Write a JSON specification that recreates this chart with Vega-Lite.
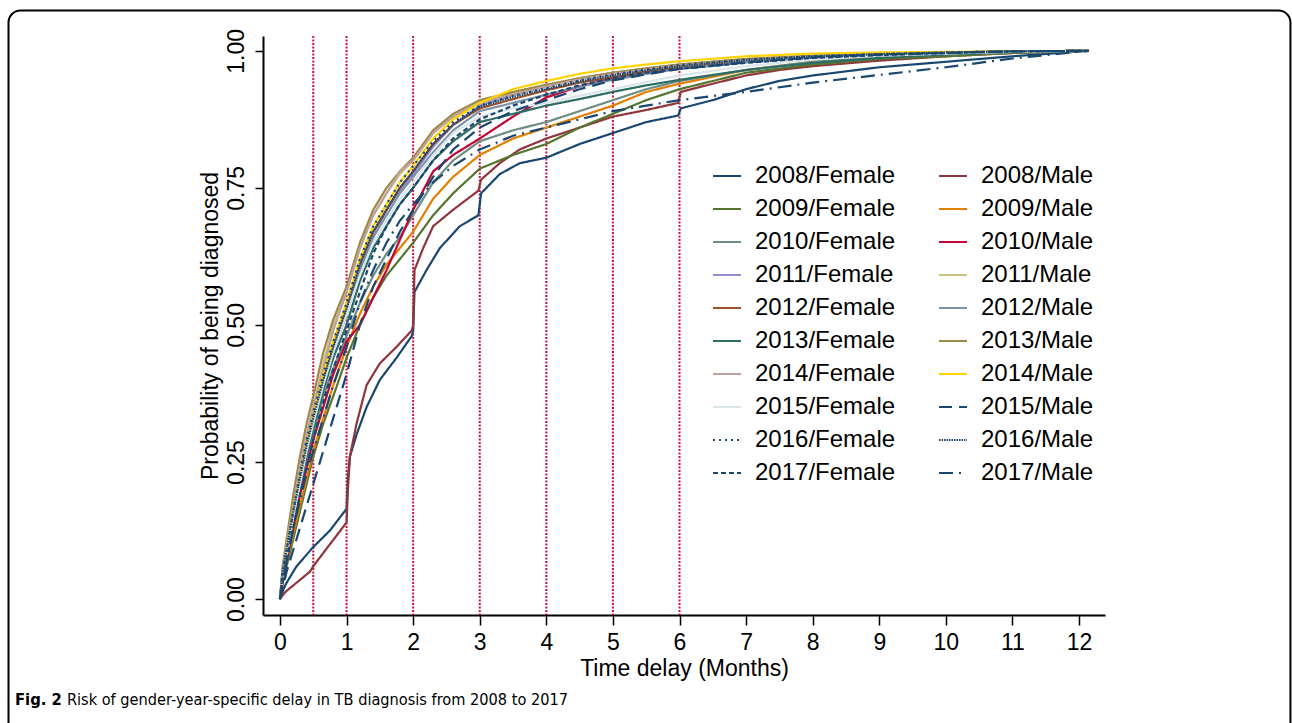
{
"$schema":"https://vega.github.io/schema/vega-lite/v6.json",
"width":842,"height":579,
"autosize":{"type":"none"},
"padding":{"left":263,"top":36,"right":187,"bottom":108},
"background":"white",
"config":{"view":{"stroke":null},"font":"Liberation Sans",
 "axisX":{"grid":false,"domainColor":"black","domainWidth":2,"tickColor":"black","tickWidth":1.5,"tickSize":10,"labelFontSize":23,"labelColor":"black","labelFont":"Liberation Sans","labelPadding":6,"labelFlush":false,"labelOverlap":false,"titleFontSize":23,"titleFontWeight":"normal","titleColor":"black","titleFont":"Liberation Sans","titlePadding":3},
 "axisY":{"grid":false,"domainColor":"black","domainWidth":2,"tickColor":"black","tickWidth":1.5,"tickSize":8,"labelAngle":-90,"labelAlign":"center","labelBaseline":"alphabetic","labelPadding":12,"labelFontSize":23,"labelColor":"black","labelFont":"Liberation Sans","titleFontSize":23,"titleFontWeight":"normal","titleColor":"black","titleFont":"Liberation Sans","titlePadding":8,"titleBaseline":"alphabetic"}
},
"datasets":{
"vlines":[{"v":0.5},{"v":1},{"v":2},{"v":3},{"v":4},{"v":5},{"v":6}],
"curves":[
{"s":"2008/Female","t":0,"p":0},{"s":"2008/Female","t":0.06,"p":0.02},{"s":"2008/Female","t":0.1,"p":0.03},{"s":"2008/Female","t":0.25,"p":0.06},{"s":"2008/Female","t":0.5,"p":0.095},{"s":"2008/Female","t":0.75,"p":0.125},{"s":"2008/Female","t":0.97,"p":0.16},{"s":"2008/Female","t":1,"p":0.165},{"s":"2008/Female","t":1.02,"p":0.22},{"s":"2008/Female","t":1.05,"p":0.26},{"s":"2008/Female","t":1.15,"p":0.3},{"s":"2008/Female","t":1.3,"p":0.35},{"s":"2008/Female","t":1.5,"p":0.4},{"s":"2008/Female","t":1.75,"p":0.44},{"s":"2008/Female","t":1.98,"p":0.48},{"s":"2008/Female","t":2,"p":0.49},{"s":"2008/Female","t":2.02,"p":0.56},{"s":"2008/Female","t":2.2,"p":0.6},{"s":"2008/Female","t":2.4,"p":0.64},{"s":"2008/Female","t":2.7,"p":0.68},{"s":"2008/Female","t":2.98,"p":0.7},{"s":"2008/Female","t":3.02,"p":0.74},{"s":"2008/Female","t":3.3,"p":0.775},{"s":"2008/Female","t":3.6,"p":0.795},{"s":"2008/Female","t":4,"p":0.805},{"s":"2008/Female","t":4.5,"p":0.83},{"s":"2008/Female","t":5,"p":0.85},{"s":"2008/Female","t":5.5,"p":0.87},{"s":"2008/Female","t":5.98,"p":0.882},{"s":"2008/Female","t":6.02,"p":0.895},{"s":"2008/Female","t":6.5,"p":0.91},{"s":"2008/Female","t":7,"p":0.93},{"s":"2008/Female","t":7.5,"p":0.945},{"s":"2008/Female","t":8,"p":0.955},{"s":"2008/Female","t":9,"p":0.97},{"s":"2008/Female","t":10,"p":0.98},{"s":"2008/Female","t":11,"p":0.99},{"s":"2008/Female","t":12.15,"p":1},
{"s":"2008/Male","t":0,"p":0},{"s":"2008/Male","t":0.06,"p":0.01},{"s":"2008/Male","t":0.1,"p":0.015},{"s":"2008/Male","t":0.25,"p":0.03},{"s":"2008/Male","t":0.45,"p":0.05},{"s":"2008/Male","t":0.5,"p":0.06},{"s":"2008/Male","t":0.75,"p":0.1},{"s":"2008/Male","t":0.97,"p":0.135},{"s":"2008/Male","t":1,"p":0.14},{"s":"2008/Male","t":1.02,"p":0.2},{"s":"2008/Male","t":1.05,"p":0.26},{"s":"2008/Male","t":1.15,"p":0.32},{"s":"2008/Male","t":1.3,"p":0.39},{"s":"2008/Male","t":1.5,"p":0.43},{"s":"2008/Male","t":1.75,"p":0.46},{"s":"2008/Male","t":1.98,"p":0.49},{"s":"2008/Male","t":2,"p":0.5},{"s":"2008/Male","t":2.02,"p":0.6},{"s":"2008/Male","t":2.15,"p":0.64},{"s":"2008/Male","t":2.3,"p":0.68},{"s":"2008/Male","t":2.6,"p":0.71},{"s":"2008/Male","t":2.98,"p":0.745},{"s":"2008/Male","t":3.02,"p":0.765},{"s":"2008/Male","t":3.3,"p":0.795},{"s":"2008/Male","t":3.6,"p":0.82},{"s":"2008/Male","t":4,"p":0.84},{"s":"2008/Male","t":4.5,"p":0.86},{"s":"2008/Male","t":5,"p":0.88},{"s":"2008/Male","t":5.5,"p":0.892},{"s":"2008/Male","t":5.98,"p":0.905},{"s":"2008/Male","t":6.02,"p":0.925},{"s":"2008/Male","t":6.5,"p":0.94},{"s":"2008/Male","t":7,"p":0.955},{"s":"2008/Male","t":7.5,"p":0.965},{"s":"2008/Male","t":8,"p":0.972},{"s":"2008/Male","t":9,"p":0.982},{"s":"2008/Male","t":10,"p":0.99},{"s":"2008/Male","t":11,"p":0.996},{"s":"2008/Male","t":12.15,"p":1},
{"s":"2009/Female","t":0,"p":0},{"s":"2009/Female","t":0.04,"p":0.03},{"s":"2009/Female","t":0.1,"p":0.06},{"s":"2009/Female","t":0.2,"p":0.11},{"s":"2009/Female","t":0.3,"p":0.16},{"s":"2009/Female","t":0.4,"p":0.21},{"s":"2009/Female","t":0.5,"p":0.26},{"s":"2009/Female","t":0.65,"p":0.32},{"s":"2009/Female","t":0.8,"p":0.37},{"s":"2009/Female","t":1,"p":0.44},{"s":"2009/Female","t":1.2,"p":0.5},{"s":"2009/Female","t":1.4,"p":0.55},{"s":"2009/Female","t":1.6,"p":0.59},{"s":"2009/Female","t":1.8,"p":0.62},{"s":"2009/Female","t":2,"p":0.65},{"s":"2009/Female","t":2.3,"p":0.7},{"s":"2009/Female","t":2.6,"p":0.74},{"s":"2009/Female","t":3,"p":0.785},{"s":"2009/Female","t":3.5,"p":0.81},{"s":"2009/Female","t":4,"p":0.83},{"s":"2009/Female","t":4.5,"p":0.86},{"s":"2009/Female","t":5,"p":0.885},{"s":"2009/Female","t":5.5,"p":0.91},{"s":"2009/Female","t":6,"p":0.93},{"s":"2009/Female","t":7,"p":0.96},{"s":"2009/Female","t":8,"p":0.975},{"s":"2009/Female","t":9,"p":0.985},{"s":"2009/Female","t":10,"p":0.99},{"s":"2009/Female","t":11,"p":0.996},{"s":"2009/Female","t":12.15,"p":1},
{"s":"2009/Male","t":0,"p":0},{"s":"2009/Male","t":0.04,"p":0.03},{"s":"2009/Male","t":0.1,"p":0.07},{"s":"2009/Male","t":0.2,"p":0.12},{"s":"2009/Male","t":0.3,"p":0.17},{"s":"2009/Male","t":0.4,"p":0.22},{"s":"2009/Male","t":0.5,"p":0.27},{"s":"2009/Male","t":0.65,"p":0.33},{"s":"2009/Male","t":0.8,"p":0.39},{"s":"2009/Male","t":1,"p":0.46},{"s":"2009/Male","t":1.2,"p":0.52},{"s":"2009/Male","t":1.4,"p":0.57},{"s":"2009/Male","t":1.6,"p":0.61},{"s":"2009/Male","t":1.8,"p":0.64},{"s":"2009/Male","t":2,"p":0.67},{"s":"2009/Male","t":2.3,"p":0.73},{"s":"2009/Male","t":2.6,"p":0.77},{"s":"2009/Male","t":3,"p":0.81},{"s":"2009/Male","t":3.5,"p":0.84},{"s":"2009/Male","t":4,"p":0.86},{"s":"2009/Male","t":4.5,"p":0.88},{"s":"2009/Male","t":5,"p":0.9},{"s":"2009/Male","t":5.5,"p":0.925},{"s":"2009/Male","t":6,"p":0.94},{"s":"2009/Male","t":7,"p":0.965},{"s":"2009/Male","t":8,"p":0.98},{"s":"2009/Male","t":9,"p":0.988},{"s":"2009/Male","t":10,"p":0.993},{"s":"2009/Male","t":11,"p":0.997},{"s":"2009/Male","t":12.15,"p":1},
{"s":"2010/Female","t":0,"p":0},{"s":"2010/Female","t":0.04,"p":0.03},{"s":"2010/Female","t":0.1,"p":0.07},{"s":"2010/Female","t":0.2,"p":0.14},{"s":"2010/Female","t":0.3,"p":0.2},{"s":"2010/Female","t":0.4,"p":0.25},{"s":"2010/Female","t":0.5,"p":0.3},{"s":"2010/Female","t":0.65,"p":0.37},{"s":"2010/Female","t":0.8,"p":0.42},{"s":"2010/Female","t":1,"p":0.48},{"s":"2010/Female","t":1.2,"p":0.54},{"s":"2010/Female","t":1.4,"p":0.59},{"s":"2010/Female","t":1.6,"p":0.63},{"s":"2010/Female","t":1.8,"p":0.66},{"s":"2010/Female","t":2,"p":0.7},{"s":"2010/Female","t":2.3,"p":0.76},{"s":"2010/Female","t":2.6,"p":0.8},{"s":"2010/Female","t":3,"p":0.835},{"s":"2010/Female","t":3.5,"p":0.855},{"s":"2010/Female","t":4,"p":0.87},{"s":"2010/Female","t":4.5,"p":0.89},{"s":"2010/Female","t":5,"p":0.91},{"s":"2010/Female","t":5.5,"p":0.93},{"s":"2010/Female","t":6,"p":0.945},{"s":"2010/Female","t":7,"p":0.965},{"s":"2010/Female","t":8,"p":0.98},{"s":"2010/Female","t":9,"p":0.988},{"s":"2010/Female","t":10,"p":0.994},{"s":"2010/Female","t":11,"p":0.998},{"s":"2010/Female","t":12.15,"p":1},
{"s":"2010/Male","t":0,"p":0},{"s":"2010/Male","t":0.04,"p":0.03},{"s":"2010/Male","t":0.1,"p":0.07},{"s":"2010/Male","t":0.2,"p":0.13},{"s":"2010/Male","t":0.3,"p":0.19},{"s":"2010/Male","t":0.4,"p":0.24},{"s":"2010/Male","t":0.5,"p":0.29},{"s":"2010/Male","t":0.65,"p":0.35},{"s":"2010/Male","t":0.8,"p":0.41},{"s":"2010/Male","t":1,"p":0.47},{"s":"2010/Male","t":1.2,"p":0.5},{"s":"2010/Male","t":1.4,"p":0.55},{"s":"2010/Male","t":1.6,"p":0.6},{"s":"2010/Male","t":1.8,"p":0.655},{"s":"2010/Male","t":2,"p":0.71},{"s":"2010/Male","t":2.3,"p":0.78},{"s":"2010/Male","t":2.6,"p":0.81},{"s":"2010/Male","t":3,"p":0.84},{"s":"2010/Male","t":3.5,"p":0.88},{"s":"2010/Male","t":4,"p":0.915},{"s":"2010/Male","t":4.5,"p":0.935},{"s":"2010/Male","t":5,"p":0.95},{"s":"2010/Male","t":5.5,"p":0.96},{"s":"2010/Male","t":6,"p":0.97},{"s":"2010/Male","t":7,"p":0.98},{"s":"2010/Male","t":8,"p":0.988},{"s":"2010/Male","t":9,"p":0.993},{"s":"2010/Male","t":10,"p":0.996},{"s":"2010/Male","t":11,"p":0.999},{"s":"2010/Male","t":12.15,"p":1},
{"s":"2011/Female","t":0,"p":0},{"s":"2011/Female","t":0.04,"p":0.04},{"s":"2011/Female","t":0.1,"p":0.08},{"s":"2011/Female","t":0.2,"p":0.15},{"s":"2011/Female","t":0.3,"p":0.21},{"s":"2011/Female","t":0.4,"p":0.27},{"s":"2011/Female","t":0.5,"p":0.32},{"s":"2011/Female","t":0.65,"p":0.39},{"s":"2011/Female","t":0.8,"p":0.45},{"s":"2011/Female","t":1,"p":0.52},{"s":"2011/Female","t":1.2,"p":0.6},{"s":"2011/Female","t":1.4,"p":0.66},{"s":"2011/Female","t":1.6,"p":0.71},{"s":"2011/Female","t":1.8,"p":0.745},{"s":"2011/Female","t":2,"p":0.775},{"s":"2011/Female","t":2.3,"p":0.825},{"s":"2011/Female","t":2.6,"p":0.865},{"s":"2011/Female","t":3,"p":0.9},{"s":"2011/Female","t":3.5,"p":0.92},{"s":"2011/Female","t":4,"p":0.935},{"s":"2011/Female","t":4.5,"p":0.95},{"s":"2011/Female","t":5,"p":0.96},{"s":"2011/Female","t":5.5,"p":0.967},{"s":"2011/Female","t":6,"p":0.975},{"s":"2011/Female","t":7,"p":0.985},{"s":"2011/Female","t":8,"p":0.991},{"s":"2011/Female","t":9,"p":0.995},{"s":"2011/Female","t":10,"p":0.997},{"s":"2011/Female","t":11,"p":0.999},{"s":"2011/Female","t":12.15,"p":1},
{"s":"2011/Male","t":0,"p":0},{"s":"2011/Male","t":0.04,"p":0.05},{"s":"2011/Male","t":0.1,"p":0.1},{"s":"2011/Male","t":0.2,"p":0.17},{"s":"2011/Male","t":0.3,"p":0.24},{"s":"2011/Male","t":0.4,"p":0.3},{"s":"2011/Male","t":0.5,"p":0.35},{"s":"2011/Male","t":0.65,"p":0.43},{"s":"2011/Male","t":0.8,"p":0.5},{"s":"2011/Male","t":1,"p":0.56},{"s":"2011/Male","t":1.2,"p":0.64},{"s":"2011/Male","t":1.4,"p":0.7},{"s":"2011/Male","t":1.6,"p":0.74},{"s":"2011/Male","t":1.8,"p":0.775},{"s":"2011/Male","t":2,"p":0.8},{"s":"2011/Male","t":2.3,"p":0.85},{"s":"2011/Male","t":2.6,"p":0.88},{"s":"2011/Male","t":3,"p":0.905},{"s":"2011/Male","t":3.5,"p":0.922},{"s":"2011/Male","t":4,"p":0.937},{"s":"2011/Male","t":4.5,"p":0.95},{"s":"2011/Male","t":5,"p":0.96},{"s":"2011/Male","t":5.5,"p":0.968},{"s":"2011/Male","t":6,"p":0.975},{"s":"2011/Male","t":7,"p":0.985},{"s":"2011/Male","t":8,"p":0.991},{"s":"2011/Male","t":9,"p":0.995},{"s":"2011/Male","t":10,"p":0.997},{"s":"2011/Male","t":11,"p":0.999},{"s":"2011/Male","t":12.15,"p":1},
{"s":"2012/Female","t":0,"p":0},{"s":"2012/Female","t":0.04,"p":0.05},{"s":"2012/Female","t":0.1,"p":0.09},{"s":"2012/Female","t":0.2,"p":0.16},{"s":"2012/Female","t":0.3,"p":0.22},{"s":"2012/Female","t":0.4,"p":0.28},{"s":"2012/Female","t":0.5,"p":0.33},{"s":"2012/Female","t":0.65,"p":0.4},{"s":"2012/Female","t":0.8,"p":0.46},{"s":"2012/Female","t":1,"p":0.53},{"s":"2012/Female","t":1.2,"p":0.61},{"s":"2012/Female","t":1.4,"p":0.67},{"s":"2012/Female","t":1.6,"p":0.71},{"s":"2012/Female","t":1.8,"p":0.75},{"s":"2012/Female","t":2,"p":0.78},{"s":"2012/Female","t":2.3,"p":0.83},{"s":"2012/Female","t":2.6,"p":0.865},{"s":"2012/Female","t":3,"p":0.895},{"s":"2012/Female","t":3.5,"p":0.912},{"s":"2012/Female","t":4,"p":0.928},{"s":"2012/Female","t":4.5,"p":0.942},{"s":"2012/Female","t":5,"p":0.952},{"s":"2012/Female","t":5.5,"p":0.962},{"s":"2012/Female","t":6,"p":0.97},{"s":"2012/Female","t":7,"p":0.98},{"s":"2012/Female","t":8,"p":0.988},{"s":"2012/Female","t":9,"p":0.993},{"s":"2012/Female","t":10,"p":0.996},{"s":"2012/Female","t":11,"p":0.999},{"s":"2012/Female","t":12.15,"p":1},
{"s":"2012/Male","t":0,"p":0},{"s":"2012/Male","t":0.04,"p":0.04},{"s":"2012/Male","t":0.1,"p":0.08},{"s":"2012/Male","t":0.2,"p":0.15},{"s":"2012/Male","t":0.3,"p":0.21},{"s":"2012/Male","t":0.4,"p":0.27},{"s":"2012/Male","t":0.5,"p":0.32},{"s":"2012/Male","t":0.65,"p":0.39},{"s":"2012/Male","t":0.8,"p":0.45},{"s":"2012/Male","t":1,"p":0.52},{"s":"2012/Male","t":1.2,"p":0.6},{"s":"2012/Male","t":1.4,"p":0.66},{"s":"2012/Male","t":1.6,"p":0.7},{"s":"2012/Male","t":1.8,"p":0.74},{"s":"2012/Male","t":2,"p":0.77},{"s":"2012/Male","t":2.3,"p":0.815},{"s":"2012/Male","t":2.6,"p":0.855},{"s":"2012/Male","t":3,"p":0.89},{"s":"2012/Male","t":3.5,"p":0.905},{"s":"2012/Male","t":4,"p":0.92},{"s":"2012/Male","t":4.5,"p":0.935},{"s":"2012/Male","t":5,"p":0.947},{"s":"2012/Male","t":5.5,"p":0.958},{"s":"2012/Male","t":6,"p":0.967},{"s":"2012/Male","t":7,"p":0.979},{"s":"2012/Male","t":8,"p":0.988},{"s":"2012/Male","t":9,"p":0.993},{"s":"2012/Male","t":10,"p":0.996},{"s":"2012/Male","t":11,"p":0.999},{"s":"2012/Male","t":12.15,"p":1},
{"s":"2013/Female","t":0,"p":0},{"s":"2013/Female","t":0.04,"p":0.04},{"s":"2013/Female","t":0.1,"p":0.08},{"s":"2013/Female","t":0.2,"p":0.15},{"s":"2013/Female","t":0.3,"p":0.21},{"s":"2013/Female","t":0.4,"p":0.26},{"s":"2013/Female","t":0.5,"p":0.31},{"s":"2013/Female","t":0.65,"p":0.38},{"s":"2013/Female","t":0.8,"p":0.44},{"s":"2013/Female","t":1,"p":0.5},{"s":"2013/Female","t":1.2,"p":0.58},{"s":"2013/Female","t":1.4,"p":0.64},{"s":"2013/Female","t":1.6,"p":0.68},{"s":"2013/Female","t":1.8,"p":0.72},{"s":"2013/Female","t":2,"p":0.75},{"s":"2013/Female","t":2.3,"p":0.8},{"s":"2013/Female","t":2.6,"p":0.835},{"s":"2013/Female","t":3,"p":0.87},{"s":"2013/Female","t":3.5,"p":0.885},{"s":"2013/Female","t":4,"p":0.9},{"s":"2013/Female","t":4.5,"p":0.912},{"s":"2013/Female","t":5,"p":0.925},{"s":"2013/Female","t":5.5,"p":0.937},{"s":"2013/Female","t":6,"p":0.947},{"s":"2013/Female","t":7,"p":0.965},{"s":"2013/Female","t":8,"p":0.978},{"s":"2013/Female","t":9,"p":0.987},{"s":"2013/Female","t":10,"p":0.993},{"s":"2013/Female","t":11,"p":0.997},{"s":"2013/Female","t":12.15,"p":1},
{"s":"2013/Male","t":0,"p":0},{"s":"2013/Male","t":0.04,"p":0.06},{"s":"2013/Male","t":0.1,"p":0.11},{"s":"2013/Male","t":0.2,"p":0.19},{"s":"2013/Male","t":0.3,"p":0.26},{"s":"2013/Male","t":0.4,"p":0.32},{"s":"2013/Male","t":0.5,"p":0.37},{"s":"2013/Male","t":0.65,"p":0.45},{"s":"2013/Male","t":0.8,"p":0.51},{"s":"2013/Male","t":1,"p":0.57},{"s":"2013/Male","t":1.2,"p":0.65},{"s":"2013/Male","t":1.4,"p":0.71},{"s":"2013/Male","t":1.6,"p":0.75},{"s":"2013/Male","t":1.8,"p":0.78},{"s":"2013/Male","t":2,"p":0.805},{"s":"2013/Male","t":2.3,"p":0.855},{"s":"2013/Male","t":2.6,"p":0.885},{"s":"2013/Male","t":3,"p":0.91},{"s":"2013/Male","t":3.5,"p":0.925},{"s":"2013/Male","t":4,"p":0.938},{"s":"2013/Male","t":4.5,"p":0.95},{"s":"2013/Male","t":5,"p":0.96},{"s":"2013/Male","t":5.5,"p":0.968},{"s":"2013/Male","t":6,"p":0.975},{"s":"2013/Male","t":7,"p":0.985},{"s":"2013/Male","t":8,"p":0.991},{"s":"2013/Male","t":9,"p":0.995},{"s":"2013/Male","t":10,"p":0.997},{"s":"2013/Male","t":11,"p":0.999},{"s":"2013/Male","t":12.15,"p":1},
{"s":"2014/Female","t":0,"p":0},{"s":"2014/Female","t":0.04,"p":0.05},{"s":"2014/Female","t":0.1,"p":0.1},{"s":"2014/Female","t":0.2,"p":0.17},{"s":"2014/Female","t":0.3,"p":0.24},{"s":"2014/Female","t":0.4,"p":0.3},{"s":"2014/Female","t":0.5,"p":0.35},{"s":"2014/Female","t":0.65,"p":0.42},{"s":"2014/Female","t":0.8,"p":0.49},{"s":"2014/Female","t":1,"p":0.56},{"s":"2014/Female","t":1.2,"p":0.64},{"s":"2014/Female","t":1.4,"p":0.7},{"s":"2014/Female","t":1.6,"p":0.74},{"s":"2014/Female","t":1.8,"p":0.78},{"s":"2014/Female","t":2,"p":0.8},{"s":"2014/Female","t":2.3,"p":0.85},{"s":"2014/Female","t":2.6,"p":0.88},{"s":"2014/Female","t":3,"p":0.905},{"s":"2014/Female","t":3.5,"p":0.92},{"s":"2014/Female","t":4,"p":0.935},{"s":"2014/Female","t":4.5,"p":0.948},{"s":"2014/Female","t":5,"p":0.958},{"s":"2014/Female","t":5.5,"p":0.966},{"s":"2014/Female","t":6,"p":0.973},{"s":"2014/Female","t":7,"p":0.983},{"s":"2014/Female","t":8,"p":0.99},{"s":"2014/Female","t":9,"p":0.994},{"s":"2014/Female","t":10,"p":0.997},{"s":"2014/Female","t":11,"p":0.999},{"s":"2014/Female","t":12.15,"p":1},
{"s":"2014/Male","t":0,"p":0},{"s":"2014/Male","t":0.04,"p":0.04},{"s":"2014/Male","t":0.1,"p":0.09},{"s":"2014/Male","t":0.2,"p":0.16},{"s":"2014/Male","t":0.3,"p":0.22},{"s":"2014/Male","t":0.4,"p":0.28},{"s":"2014/Male","t":0.5,"p":0.33},{"s":"2014/Male","t":0.65,"p":0.41},{"s":"2014/Male","t":0.8,"p":0.47},{"s":"2014/Male","t":1,"p":0.54},{"s":"2014/Male","t":1.2,"p":0.62},{"s":"2014/Male","t":1.4,"p":0.68},{"s":"2014/Male","t":1.6,"p":0.72},{"s":"2014/Male","t":1.8,"p":0.76},{"s":"2014/Male","t":2,"p":0.79},{"s":"2014/Male","t":2.3,"p":0.84},{"s":"2014/Male","t":2.6,"p":0.875},{"s":"2014/Male","t":3,"p":0.905},{"s":"2014/Male","t":3.5,"p":0.93},{"s":"2014/Male","t":4,"p":0.945},{"s":"2014/Male","t":4.5,"p":0.958},{"s":"2014/Male","t":5,"p":0.968},{"s":"2014/Male","t":5.5,"p":0.975},{"s":"2014/Male","t":6,"p":0.981},{"s":"2014/Male","t":7,"p":0.99},{"s":"2014/Male","t":8,"p":0.995},{"s":"2014/Male","t":9,"p":0.997},{"s":"2014/Male","t":10,"p":0.998},{"s":"2014/Male","t":11,"p":0.999},{"s":"2014/Male","t":12.15,"p":1},
{"s":"2015/Female","t":0,"p":0},{"s":"2015/Female","t":0.04,"p":0.04},{"s":"2015/Female","t":0.1,"p":0.08},{"s":"2015/Female","t":0.2,"p":0.15},{"s":"2015/Female","t":0.3,"p":0.21},{"s":"2015/Female","t":0.4,"p":0.27},{"s":"2015/Female","t":0.5,"p":0.32},{"s":"2015/Female","t":0.65,"p":0.39},{"s":"2015/Female","t":0.8,"p":0.45},{"s":"2015/Female","t":1,"p":0.52},{"s":"2015/Female","t":1.2,"p":0.59},{"s":"2015/Female","t":1.4,"p":0.65},{"s":"2015/Female","t":1.6,"p":0.69},{"s":"2015/Female","t":1.8,"p":0.73},{"s":"2015/Female","t":2,"p":0.76},{"s":"2015/Female","t":2.3,"p":0.81},{"s":"2015/Female","t":2.6,"p":0.85},{"s":"2015/Female","t":3,"p":0.88},{"s":"2015/Female","t":3.5,"p":0.895},{"s":"2015/Female","t":4,"p":0.905},{"s":"2015/Female","t":4.5,"p":0.918},{"s":"2015/Female","t":5,"p":0.93},{"s":"2015/Female","t":5.5,"p":0.943},{"s":"2015/Female","t":6,"p":0.955},{"s":"2015/Female","t":7,"p":0.972},{"s":"2015/Female","t":8,"p":0.984},{"s":"2015/Female","t":9,"p":0.991},{"s":"2015/Female","t":10,"p":0.995},{"s":"2015/Female","t":11,"p":0.998},{"s":"2015/Female","t":12.15,"p":1},
{"s":"2015/Male","t":0,"p":0},{"s":"2015/Male","t":0.04,"p":0.02},{"s":"2015/Male","t":0.1,"p":0.05},{"s":"2015/Male","t":0.2,"p":0.09},{"s":"2015/Male","t":0.3,"p":0.13},{"s":"2015/Male","t":0.4,"p":0.17},{"s":"2015/Male","t":0.5,"p":0.21},{"s":"2015/Male","t":0.65,"p":0.27},{"s":"2015/Male","t":0.8,"p":0.33},{"s":"2015/Male","t":1,"p":0.41},{"s":"2015/Male","t":1.2,"p":0.5},{"s":"2015/Male","t":1.4,"p":0.57},{"s":"2015/Male","t":1.6,"p":0.62},{"s":"2015/Male","t":1.8,"p":0.67},{"s":"2015/Male","t":2,"p":0.71},{"s":"2015/Male","t":2.3,"p":0.77},{"s":"2015/Male","t":2.6,"p":0.82},{"s":"2015/Male","t":3,"p":0.86},{"s":"2015/Male","t":3.5,"p":0.89},{"s":"2015/Male","t":4,"p":0.91},{"s":"2015/Male","t":4.5,"p":0.93},{"s":"2015/Male","t":5,"p":0.946},{"s":"2015/Male","t":5.5,"p":0.957},{"s":"2015/Male","t":6,"p":0.967},{"s":"2015/Male","t":7,"p":0.979},{"s":"2015/Male","t":8,"p":0.988},{"s":"2015/Male","t":9,"p":0.993},{"s":"2015/Male","t":10,"p":0.996},{"s":"2015/Male","t":11,"p":0.999},{"s":"2015/Male","t":12.15,"p":1},
{"s":"2016/Female","t":0,"p":0},{"s":"2016/Female","t":0.04,"p":0.05},{"s":"2016/Female","t":0.1,"p":0.09},{"s":"2016/Female","t":0.2,"p":0.16},{"s":"2016/Female","t":0.3,"p":0.23},{"s":"2016/Female","t":0.4,"p":0.29},{"s":"2016/Female","t":0.5,"p":0.34},{"s":"2016/Female","t":0.65,"p":0.41},{"s":"2016/Female","t":0.8,"p":0.47},{"s":"2016/Female","t":1,"p":0.54},{"s":"2016/Female","t":1.2,"p":0.62},{"s":"2016/Female","t":1.4,"p":0.68},{"s":"2016/Female","t":1.6,"p":0.72},{"s":"2016/Female","t":1.8,"p":0.76},{"s":"2016/Female","t":2,"p":0.79},{"s":"2016/Female","t":2.3,"p":0.835},{"s":"2016/Female","t":2.6,"p":0.87},{"s":"2016/Female","t":3,"p":0.9},{"s":"2016/Female","t":3.5,"p":0.918},{"s":"2016/Female","t":4,"p":0.932},{"s":"2016/Female","t":4.5,"p":0.946},{"s":"2016/Female","t":5,"p":0.957},{"s":"2016/Female","t":5.5,"p":0.966},{"s":"2016/Female","t":6,"p":0.974},{"s":"2016/Female","t":7,"p":0.984},{"s":"2016/Female","t":8,"p":0.99},{"s":"2016/Female","t":9,"p":0.994},{"s":"2016/Female","t":10,"p":0.997},{"s":"2016/Female","t":11,"p":0.999},{"s":"2016/Female","t":12.15,"p":1},
{"s":"2016/Male","t":0,"p":0},{"s":"2016/Male","t":0.04,"p":0.05},{"s":"2016/Male","t":0.1,"p":0.09},{"s":"2016/Male","t":0.2,"p":0.16},{"s":"2016/Male","t":0.3,"p":0.22},{"s":"2016/Male","t":0.4,"p":0.28},{"s":"2016/Male","t":0.5,"p":0.33},{"s":"2016/Male","t":0.65,"p":0.4},{"s":"2016/Male","t":0.8,"p":0.46},{"s":"2016/Male","t":1,"p":0.53},{"s":"2016/Male","t":1.2,"p":0.61},{"s":"2016/Male","t":1.4,"p":0.67},{"s":"2016/Male","t":1.6,"p":0.71},{"s":"2016/Male","t":1.8,"p":0.75},{"s":"2016/Male","t":2,"p":0.78},{"s":"2016/Male","t":2.3,"p":0.83},{"s":"2016/Male","t":2.6,"p":0.865},{"s":"2016/Male","t":3,"p":0.898},{"s":"2016/Male","t":3.5,"p":0.916},{"s":"2016/Male","t":4,"p":0.93},{"s":"2016/Male","t":4.5,"p":0.944},{"s":"2016/Male","t":5,"p":0.955},{"s":"2016/Male","t":5.5,"p":0.964},{"s":"2016/Male","t":6,"p":0.972},{"s":"2016/Male","t":7,"p":0.983},{"s":"2016/Male","t":8,"p":0.99},{"s":"2016/Male","t":9,"p":0.994},{"s":"2016/Male","t":10,"p":0.997},{"s":"2016/Male","t":11,"p":0.999},{"s":"2016/Male","t":12.15,"p":1},
{"s":"2017/Female","t":0,"p":0},{"s":"2017/Female","t":0.04,"p":0.03},{"s":"2017/Female","t":0.1,"p":0.07},{"s":"2017/Female","t":0.2,"p":0.13},{"s":"2017/Female","t":0.3,"p":0.19},{"s":"2017/Female","t":0.4,"p":0.24},{"s":"2017/Female","t":0.5,"p":0.29},{"s":"2017/Female","t":0.65,"p":0.36},{"s":"2017/Female","t":0.8,"p":0.42},{"s":"2017/Female","t":1,"p":0.49},{"s":"2017/Female","t":1.2,"p":0.56},{"s":"2017/Female","t":1.4,"p":0.63},{"s":"2017/Female","t":1.6,"p":0.68},{"s":"2017/Female","t":1.8,"p":0.72},{"s":"2017/Female","t":2,"p":0.75},{"s":"2017/Female","t":2.3,"p":0.8},{"s":"2017/Female","t":2.6,"p":0.84},{"s":"2017/Female","t":3,"p":0.875},{"s":"2017/Female","t":3.5,"p":0.9},{"s":"2017/Female","t":4,"p":0.92},{"s":"2017/Female","t":4.5,"p":0.937},{"s":"2017/Female","t":5,"p":0.95},{"s":"2017/Female","t":5.5,"p":0.96},{"s":"2017/Female","t":6,"p":0.967},{"s":"2017/Female","t":7,"p":0.978},{"s":"2017/Female","t":8,"p":0.987},{"s":"2017/Female","t":9,"p":0.992},{"s":"2017/Female","t":10,"p":0.996},{"s":"2017/Female","t":11,"p":0.999},{"s":"2017/Female","t":12.15,"p":1},
{"s":"2017/Male","t":0,"p":0},{"s":"2017/Male","t":0.04,"p":0.03},{"s":"2017/Male","t":0.1,"p":0.07},{"s":"2017/Male","t":0.2,"p":0.13},{"s":"2017/Male","t":0.3,"p":0.18},{"s":"2017/Male","t":0.4,"p":0.23},{"s":"2017/Male","t":0.5,"p":0.27},{"s":"2017/Male","t":0.65,"p":0.33},{"s":"2017/Male","t":0.8,"p":0.39},{"s":"2017/Male","t":1,"p":0.46},{"s":"2017/Male","t":1.2,"p":0.54},{"s":"2017/Male","t":1.4,"p":0.6},{"s":"2017/Male","t":1.6,"p":0.65},{"s":"2017/Male","t":1.8,"p":0.69},{"s":"2017/Male","t":2,"p":0.72},{"s":"2017/Male","t":2.3,"p":0.76},{"s":"2017/Male","t":2.6,"p":0.79},{"s":"2017/Male","t":3,"p":0.82},{"s":"2017/Male","t":3.5,"p":0.845},{"s":"2017/Male","t":4,"p":0.86},{"s":"2017/Male","t":4.5,"p":0.875},{"s":"2017/Male","t":5,"p":0.89},{"s":"2017/Male","t":5.5,"p":0.9},{"s":"2017/Male","t":6,"p":0.91},{"s":"2017/Male","t":7,"p":0.925},{"s":"2017/Male","t":8,"p":0.942},{"s":"2017/Male","t":9,"p":0.956},{"s":"2017/Male","t":10,"p":0.97},{"s":"2017/Male","t":11,"p":0.986},{"s":"2017/Male","t":12.15,"p":1}
]
},
"layer":[
{"data":{"name":"vlines"},
 "mark":{"type":"rule","color":"#cc1040","strokeWidth":2,"strokeDash":[2,1.5]},
 "encoding":{"x":{"field":"v","type":"quantitative","title":"Time delay (Months)","scale":{"domain":[-0.255,12.39],"nice":false,"zero":false}}}},
{"data":{"name":"curves"},
 "mark":{"type":"line","strokeWidth":2.2},
 "encoding":{
  "x":{"field":"t","type":"quantitative","title":"Time delay (Months)","scale":{"domain":[-0.255,12.39],"nice":false,"zero":false},"axis":{"values":[0,1,2,3,4,5,6,7,8,9,10,11,12],"format":"d"}},
  "y":{"field":"p","type":"quantitative","title":"Probability of being diagnosed","scale":{"domain":[-0.029,1.027],"nice":false,"zero":false},"axis":{"values":[0,0.25,0.5,0.75,1],"format":".2f"}},
  "color":{"field":"s","type":"nominal",
   "scale":{"domain":["2008/Female","2008/Male","2009/Female","2009/Male","2010/Female","2010/Male","2011/Female","2011/Male","2012/Female","2012/Male","2013/Female","2013/Male","2014/Female","2014/Male","2015/Female","2015/Male","2016/Female","2016/Male","2017/Female","2017/Male"],
    "range":["#1a476f","#90353b","#55752f","#e37e00","#6e8e84","#c10534","#938dd2","#cac27e","#a0522d","#7b92a8","#2d6d66","#9c8847","#bfa19c","#ffd200","#d9e6eb","#1a476f","#1a476f","#1a476f","#1a476f","#1a476f"]},
   "legend":{"orient":"none","legendX":449,"legendY":125,"columns":2,"direction":"horizontal","title":null,"symbolType":"stroke","symbolSize":784,"symbolStrokeWidth":2,"labelFontSize":24,"labelFont":"Liberation Sans","labelColor":"black","labelOffset":13,"labelLimit":400,"rowPadding":6,"columnPadding":39,"padding":0}},
  "strokeDash":{"field":"s","type":"nominal",
   "scale":{"domain":["2008/Female","2008/Male","2009/Female","2009/Male","2010/Female","2010/Male","2011/Female","2011/Male","2012/Female","2012/Male","2013/Female","2013/Male","2014/Female","2014/Male","2015/Female","2015/Male","2016/Female","2016/Male","2017/Female","2017/Male"],
    "range":[[1,0],[1,0],[1,0],[1,0],[1,0],[1,0],[1,0],[1,0],[1,0],[1,0],[1,0],[1,0],[1,0],[1,0],[1,0],[13,7],[2,4],[1.5,1],[5,3],[14,6,2,6]]},
   "legend":{"orient":"none","legendX":449,"legendY":125,"columns":2,"direction":"horizontal","title":null,"symbolType":"stroke","symbolSize":784,"symbolStrokeWidth":2,"labelFontSize":24,"labelFont":"Liberation Sans","labelColor":"black","labelOffset":13,"labelLimit":400,"rowPadding":6,"columnPadding":39,"padding":0}}
 }},
{"data":{"values":[{"label":"frame"}]},
 "mark":{"type":"rect","fillOpacity":0,"stroke":"black","strokeWidth":2,"cornerRadius":12},
 "encoding":{"x":{"datum":-4.077,"type":"quantitative","title":"Time delay (Months)","scale":{"domain":[-0.255,12.39],"nice":false,"zero":false}},"x2":{"datum":15.175},
  "y":{"datum":1.0735,"type":"quantitative","title":"Probability of being diagnosed","scale":{"domain":[-0.029,1.027],"nice":false,"zero":false}},"y2":{"datum":-0.248}}},
{"data":{"values":[{"label":"Fig. 2"}]},
 "mark":{"type":"text","align":"left","baseline":"middle","fontWeight":"bold","fontSize":16.5,"font":"Liberation Sans Narrow, DejaVu Sans Condensed, Liberation Sans","color":"black"},
 "encoding":{"text":{"field":"label"},"x":{"datum":-3.98,"type":"quantitative","title":"Time delay (Months)","scale":{"domain":[-0.255,12.39],"nice":false,"zero":false}},
  "y":{"datum":-0.184,"type":"quantitative","title":"Probability of being diagnosed","scale":{"domain":[-0.029,1.027],"nice":false,"zero":false}}}},
{"data":{"values":[{"label":"Risk of gender-year-specific delay in TB diagnosis from 2008 to 2017"}]},
 "mark":{"type":"text","align":"left","baseline":"middle","fontSize":16.2,"font":"Liberation Sans Narrow, DejaVu Sans Condensed, Liberation Sans","color":"black"},
 "encoding":{"text":{"field":"label"},"x":{"datum":-3.2,"type":"quantitative","title":"Time delay (Months)","scale":{"domain":[-0.255,12.39],"nice":false,"zero":false}},
  "y":{"datum":-0.184,"type":"quantitative","title":"Probability of being diagnosed","scale":{"domain":[-0.029,1.027],"nice":false,"zero":false}}}}
]
}
